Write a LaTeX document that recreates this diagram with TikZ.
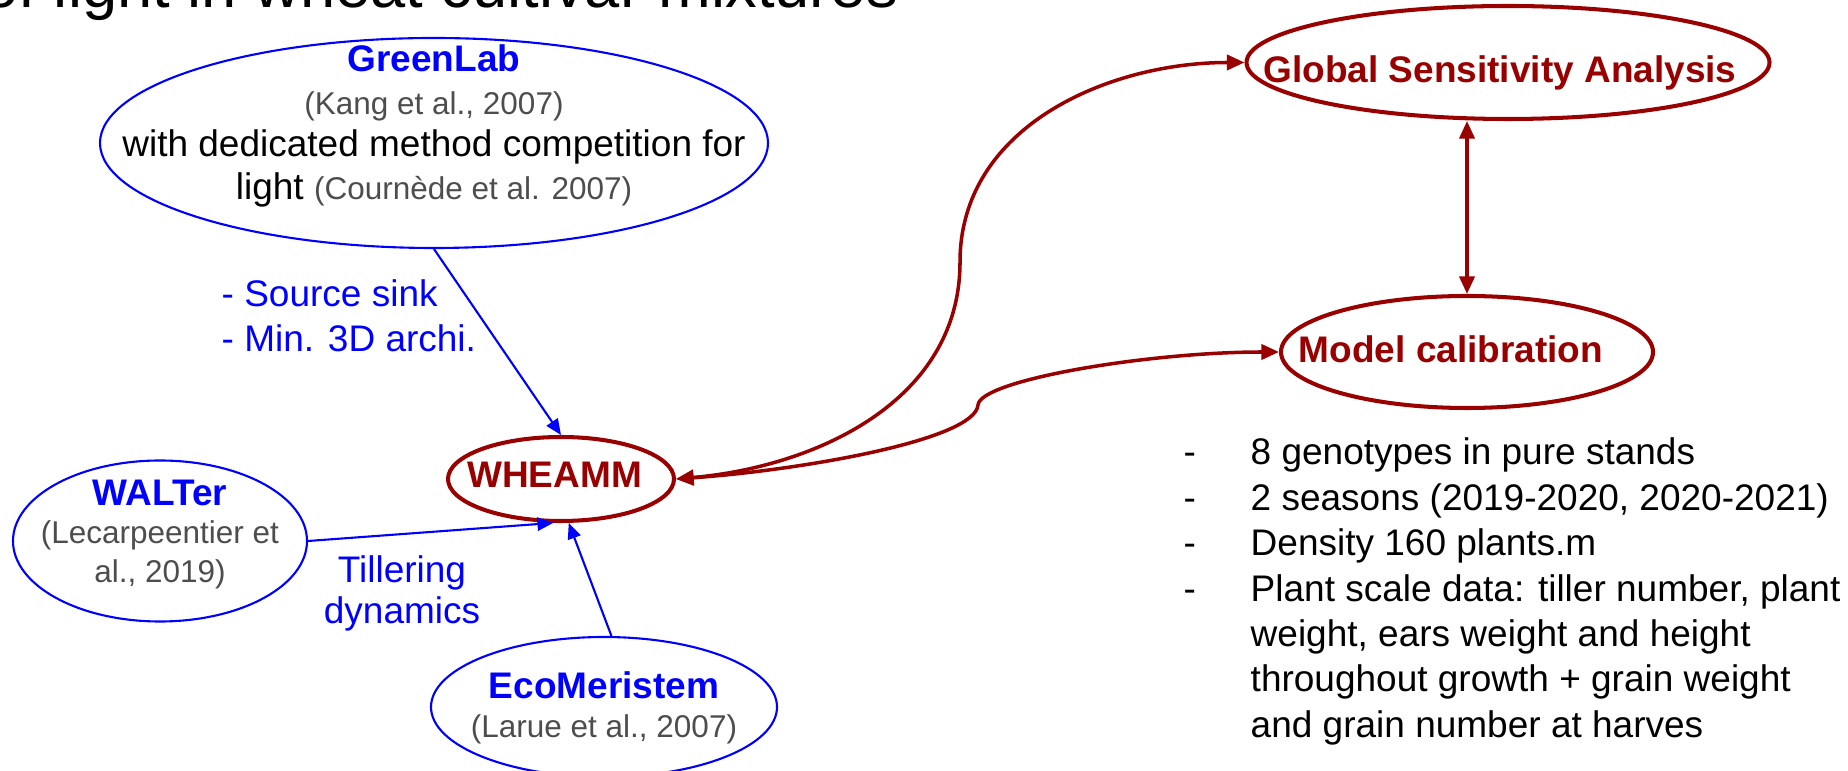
\documentclass[tikz,border=0pt]{standalone}
\usepackage{fontspec}
\setmainfont{Liberation Sans}
\usepackage{tikz}
\usetikzlibrary{shapes.geometric,arrows.meta}
\definecolor{darkred}{RGB}{153,0,0}
\definecolor{citegray}{RGB}{77,77,77}
\newcommand{\refnote}[1]{{\fontsize{8.96}{12.2}\selectfont\color{citegray}#1}}

\begin{document}
\begin{tikzpicture}[
    >={Triangle[length=4.5pt,width=3.8pt]},
    model/.style={ellipse, draw=blue, line width=0.6pt, inner sep=0pt},
    core/.style={ellipse, draw=darkred, line width=1.15pt, inner sep=0pt},
    body/.style={inner sep=0pt, align=center, font=\fontsize{10.53}{12.2}\selectfont},
    corename/.style={inner sep=0pt, text=darkred, font=\bfseries\fontsize{10.53}{12.2}\selectfont},
    feed/.style={blue, line width=0.6pt, ->},
    link/.style={darkred, line width=1pt, >={Triangle[length=5pt,width=4.3pt]}, <->}
  ]
        \clip (0,0) rectangle (18.48,7.71);

        % Title, cut at the top
        \node[anchor=base west, inner sep=0pt, font=\fontsize{18}{21}\selectfont] (title) at (-0.17,7.63) {of light in wheat cultivar mixtures};

        % Draw source models
        \node[model, minimum width=6.68cm, minimum height=2.1cm] (greenlab) at (4.34,6.28) {};
        \node[body] (greenlabtxt) at (4.34,6.45) {\textbf{\color{blue}GreenLab}\\ \refnote{(Kang et al., 2007)}\\ with dedicated method competition for\\ light \refnote{(Cournède et al. 2007)}};

        \node[model, minimum width=2.94cm, minimum height=1.61cm] (walter) at (1.60,2.30) {};
        \node[body, font=\fontsize{10.53}{11}\selectfont] (waltertxt) at (1.60,2.365) {\textbf{\color{blue}WALTer}\\ \refnote{(Lecarpeentier et}\\ \refnote{al., 2019)}};

        \node[model, minimum width=3.46cm, minimum height=1.40cm] (eco) at (6.04,0.64) {};
        \node[body, font=\fontsize{10.53}{11.1}\selectfont] (ecotxt) at (6.04,0.635) {\textbf{\color{blue}EcoMeristem}\\ \refnote{(Larue et al., 2007)}};

        % Draw WHEAMM, sensitivity analysis and calibration
        \node[core, minimum width=2.26cm, minimum height=0.84cm] (wheamm) at (5.61,2.92) {};
        \node[corename] (wheammtxt) at (5.545,2.96) {WHEAMM};

        \node[core, minimum width=5.23cm, minimum height=1.13cm] (gsa) at (15.08,7.085) {};
        \node[corename] (gsatxt) at (15.00,6.976) {Global Sensitivity Analysis};

        \node[core, minimum width=3.72cm, minimum height=1.12cm] (calib) at (14.67,4.19) {};
        \node[corename] (calibtxt) at (14.51,4.215) {Model calibration};

        % Draw blue arrows with their labels
        \draw[feed] (greenlab.south) -- (wheamm.north);
        \draw[feed] (walter.east) -- (wheamm.-100);
        \draw[feed] (eco.84) -- (wheamm.-80);
        \node[anchor=west, inner sep=0pt, align=left, text=blue, font=\fontsize{10.53}{12.8}\selectfont] (glnote) at (2.21,4.55) {- Source sink\\- Min. 3D archi.};
        \node[body, text=blue, font=\fontsize{10.53}{11.7}\selectfont] (tillering) at (4.02,1.78) {Tillering\\dynamics};

        % Draw red curves
        \coordinate (bend1) at (9.60,5.09);
        \coordinate (bend2) at (9.78,3.66);
        \draw[link] (wheamm.east) to[out=5,in=-90] (bend1) to[out=90,in=180] (gsa.west);
        \draw[link] (wheamm.east) .. controls +(1.26,0.09) and +(-0.03,-0.35) .. (bend2) .. controls +(0.02,0.25) and +(-1.3,0) .. (calib.west);
        \draw[link] (gsa.south -| calib.north) -- (calib.north);

        % Data list
        \node[anchor=base west, inner sep=0pt, font=\fontsize{10.53}{12.9}\selectfont] (data) at (11.83,3.06) {%
          \begin{tabular}[t]{@{}p{0.67cm}@{}l@{}}
            - & 8 genotypes in pure stands\\
            - & 2 seasons (2019-2020, 2020-2021)\\
            - & Density 160 plants.m\\
            - & Plant scale data: tiller number, plant\\
              & weight, ears weight and height\\
              & throughout growth + grain weight\\
              & and grain number at harves
          \end{tabular}};

    \end{tikzpicture}
\end{document}
